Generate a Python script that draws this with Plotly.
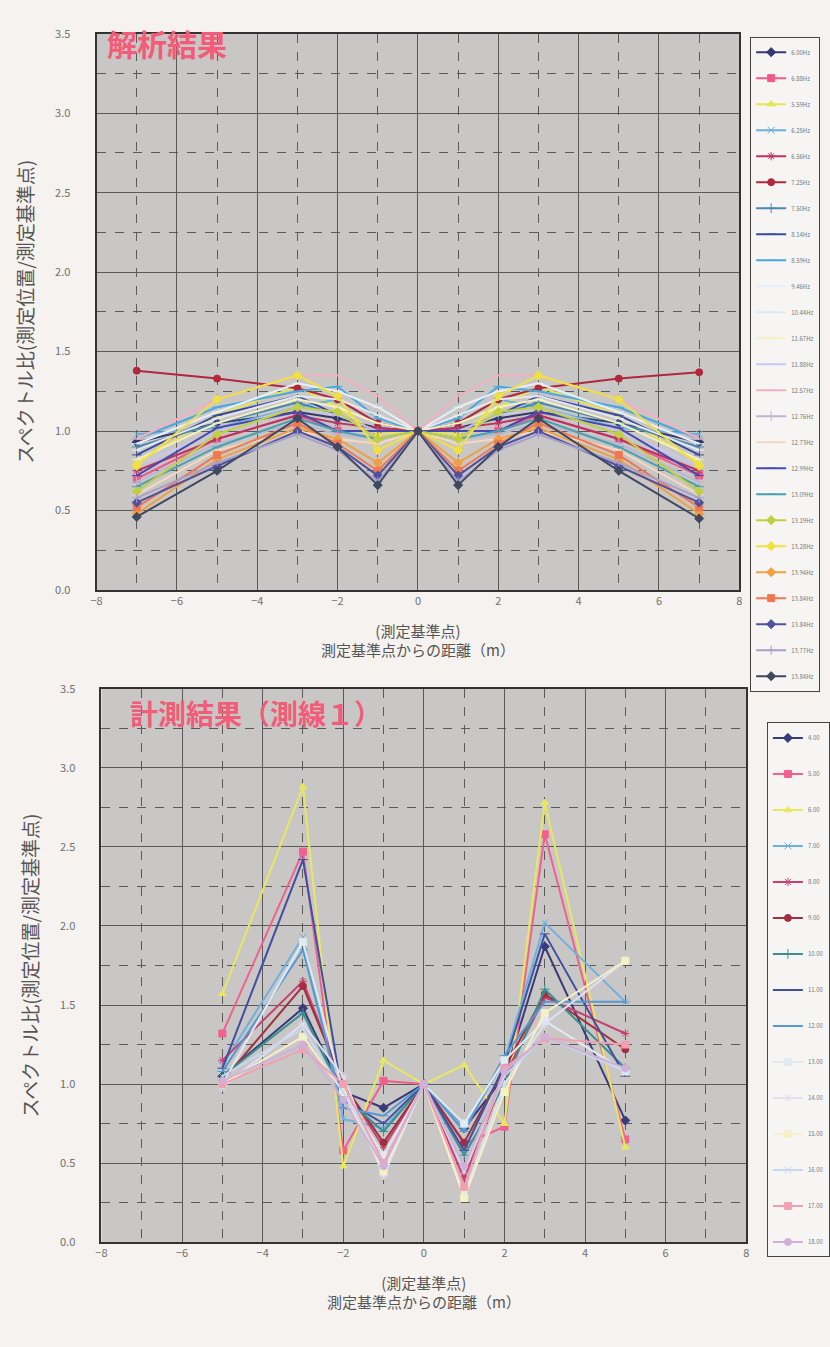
import plotly.graph_objects as go

# ---------------- data ----------------
x_calc = [-7, -5, -3, -2, -1, 0, 1, 2, 3, 5, 7]
calc_names = ["6.00Hz", "6.88Hz", "5.59Hz", "6.25Hz", "6.56Hz", "7.25Hz", "7.50Hz", "8.14Hz",
              "8.59Hz", "9.46Hz", "10.44Hz", "11.67Hz", "11.88Hz", "12.57Hz", "12.76Hz",
              "12.73Hz", "12.99Hz", "13.09Hz", "13.19Hz", "13.28Hz", "13.94Hz", "13.84Hz",
              "13.84Hz", "13.77Hz", "13.84Hz"]
calc_vals = [
    [0.93, 1.05, 1.12, 1.08, 1.02, 1.00, 1.02, 1.08, 1.12, 1.05, 0.93],
    [0.70, 0.95, 1.10, 1.00, 1.00, 1.00, 1.00, 1.00, 1.10, 0.95, 0.72],
    [0.80, 1.10, 1.28, 1.15, 0.98, 1.00, 0.98, 1.15, 1.28, 1.10, 0.80],
    [0.98, 1.02, 1.15, 1.20, 1.05, 1.00, 1.05, 1.20, 1.15, 1.02, 0.98],
    [0.75, 0.95, 1.10, 1.05, 1.02, 1.00, 1.02, 1.05, 1.10, 0.95, 0.75],
    [1.38, 1.33, 1.27, 1.20, 1.05, 1.00, 1.05, 1.20, 1.27, 1.33, 1.37],
    [0.90, 1.05, 1.18, 1.10, 1.00, 1.00, 1.00, 1.10, 1.18, 1.05, 0.90],
    [0.85, 1.10, 1.22, 1.10, 1.00, 1.00, 1.00, 1.10, 1.22, 1.10, 0.85],
    [0.95, 1.15, 1.25, 1.28, 1.08, 1.00, 1.08, 1.28, 1.25, 1.15, 0.95],
    [0.92, 1.12, 1.30, 1.25, 1.15, 1.00, 1.15, 1.25, 1.30, 1.12, 0.92],
    [0.88, 1.08, 1.22, 1.20, 1.10, 1.00, 1.10, 1.20, 1.22, 1.08, 0.88],
    [0.82, 1.05, 1.20, 1.15, 1.05, 1.00, 1.05, 1.15, 1.20, 1.05, 0.82],
    [0.78, 1.00, 1.15, 1.10, 1.00, 1.00, 1.00, 1.10, 1.15, 1.00, 0.78],
    [0.95, 1.20, 1.35, 1.35, 1.22, 1.00, 1.22, 1.35, 1.35, 1.20, 0.95],
    [0.68, 0.92, 1.05, 0.98, 0.95, 1.00, 0.95, 0.98, 1.05, 0.92, 0.68],
    [0.60, 0.88, 1.00, 0.95, 0.92, 1.00, 0.92, 0.95, 1.00, 0.88, 0.60],
    [0.72, 1.02, 1.12, 1.00, 1.00, 1.00, 1.00, 1.00, 1.12, 1.02, 0.72],
    [0.65, 0.90, 1.08, 1.00, 0.95, 1.00, 0.95, 1.00, 1.08, 0.90, 0.65],
    [0.62, 0.98, 1.15, 1.12, 0.95, 1.00, 0.95, 1.12, 1.15, 0.98, 0.62],
    [0.78, 1.20, 1.35, 1.22, 0.88, 1.00, 0.88, 1.22, 1.35, 1.20, 0.78],
    [0.48, 0.82, 1.02, 0.95, 0.80, 1.00, 0.80, 0.95, 1.02, 0.82, 0.48],
    [0.52, 0.85, 1.05, 0.92, 0.75, 1.00, 0.75, 0.92, 1.05, 0.85, 0.52],
    [0.55, 0.78, 1.00, 0.90, 0.72, 1.00, 0.72, 0.90, 1.00, 0.78, 0.55],
    [0.58, 0.80, 0.98, 0.88, 0.68, 1.00, 0.68, 0.88, 0.98, 0.80, 0.58],
    [0.46, 0.75, 1.08, 0.90, 0.66, 1.00, 0.66, 0.90, 1.08, 0.75, 0.45],
]
calc_colors = ["#34386e", "#ee5a8a", "#e6e650", "#6ab0d8", "#c03060", "#b0283a", "#4a88b0",
               "#3a4aa0", "#48a8e0", "#e8eef5", "#e4e8ee", "#f4f0c0", "#c8c8f0", "#f0b0c0",
               "#b8b8d0", "#f4d8c0", "#4848b0", "#48a0b0", "#c0d040", "#f0e040", "#f0a040",
               "#f07850", "#5050a0", "#a8a0c8", "#404860"]
calc_symbols = ["diamond", "square", "triangle-up", "x-thin-open", "asterisk-open", "circle",
                "cross-thin-open", "line-ew-open", "line-ew-open", "line-ew-open", "line-ew-open",
                "line-ew-open", "line-ew-open", "line-ew-open", "cross-thin-open", "line-ew-open",
                "line-ew-open", "line-ew-open", "diamond", "diamond", "diamond", "square",
                "diamond", "cross-thin-open", "diamond"]

x_meas = [-5, -3, -2, -1, 0, 1, 2, 3, 5]
meas_names = ["4.00", "5.00", "6.00", "7.00", "8.00", "9.00", "10.00", "11.00", "12.00",
              "13.00", "14.00", "15.00", "16.00", "17.00", "18.00"]
meas_vals = [
    [1.05, 1.48, 0.95, 0.85, 1.00, 0.72, 1.05, 1.87, 0.77],
    [1.32, 2.47, 0.58, 1.02, 1.00, 0.62, 0.73, 2.58, 0.65],
    [1.57, 2.88, 0.48, 1.15, 1.00, 1.12, 0.75, 2.78, 0.60],
    [1.12, 1.93, 0.78, 0.72, 1.00, 0.72, 1.15, 2.02, 1.52],
    [1.15, 1.65, 1.00, 0.60, 1.00, 0.40, 1.05, 1.55, 1.32],
    [1.02, 1.62, 1.00, 0.63, 1.00, 0.63, 1.10, 1.57, 1.22],
    [1.05, 1.45, 0.92, 0.70, 1.00, 0.55, 1.00, 1.60, 1.10],
    [1.10, 2.42, 0.90, 0.75, 1.00, 0.58, 1.12, 1.95, 1.05],
    [1.08, 1.85, 0.85, 0.80, 1.00, 0.70, 1.18, 1.52, 1.52],
    [1.00, 1.90, 0.95, 0.55, 1.00, 0.75, 1.15, 1.40, 1.08],
    [0.98, 1.38, 1.05, 0.42, 1.00, 0.30, 1.00, 1.38, 1.78],
    [1.00, 1.30, 0.95, 0.45, 1.00, 0.28, 0.95, 1.45, 1.78],
    [1.05, 1.35, 0.95, 0.50, 1.00, 0.45, 1.05, 1.30, 1.08],
    [1.00, 1.22, 1.00, 0.50, 1.00, 0.35, 1.10, 1.29, 1.25],
    [1.02, 1.25, 0.90, 0.48, 1.00, 0.48, 1.08, 1.30, 1.10],
]
meas_colors = ["#3a3a78", "#f06090", "#e8e860", "#70b0e0", "#c84070", "#a03040", "#3a9090",
               "#4050a0", "#5898d0", "#e0eaf0", "#e0e0f0", "#f4f0c8", "#c8d8f0", "#f0a0b0",
               "#d0b0d8"]
meas_symbols = ["diamond", "square", "triangle-up", "x-thin-open", "asterisk-open", "circle",
                "cross-thin-open", "line-ew-open", "line-ew-open", "square", "asterisk-open",
                "square", "x-thin-open", "square", "circle"]

y_title = "スペクトル比(測定位置/測定基準点)"
x_title = "(測定基準点)<br>測定基準点からの距離（m）"
title_calc = "解析結果"
title_meas = "計測結果（測線１）"

# ---------------- figure ----------------
W, H = 830, 1347
BG = "#f6f2ef"
fig = go.Figure()

for i, (name, vals) in enumerate(zip(calc_names, calc_vals)):
    fig.add_trace(go.Scatter(
        x=x_calc, y=vals, name=name, mode="lines+markers",
        line=dict(color=calc_colors[i], width=2),
        marker=dict(color=calc_colors[i], symbol=calc_symbols[i], size=7,
                    line=dict(color=calc_colors[i], width=1)),
        xaxis="x", yaxis="y", legend="legend", legendgroup="c%d" % i))

for i, (name, vals) in enumerate(zip(meas_names, meas_vals)):
    fig.add_trace(go.Scatter(
        x=x_meas, y=vals, name=name, mode="lines+markers",
        line=dict(color=meas_colors[i], width=2),
        marker=dict(color=meas_colors[i], symbol=meas_symbols[i], size=7,
                    line=dict(color=meas_colors[i], width=1)),
        xaxis="x2", yaxis="y2", legend="legend2", legendgroup="m%d" % i))

font_family = "Noto Sans CJK JP, sans-serif"
tick_font = dict(family=font_family, size=11, color="#707070")
title_font = dict(family=font_family, size=15, color="#555")


def xaxis(domain, anchor):
    return dict(domain=domain, anchor=anchor, range=[-8, 8], dtick=2, tick0=-8,
                showgrid=True, gridcolor="#5a5a5a", gridwidth=1,
                minor=dict(dtick=1, tick0=-8, showgrid=True, gridcolor="#5a5a5a",
                           griddash="dash", gridwidth=1),
                showline=True, linecolor="#333", linewidth=2, mirror=True,
                zeroline=False, ticks="", tickfont=tick_font,
                title=dict(text=x_title, font=title_font, standoff=19))


def yaxis(domain, anchor):
    return dict(domain=domain, anchor=anchor, range=[0, 3.5], dtick=0.5, tick0=0,
                tickformat=".1f",
                showgrid=True, gridcolor="#5a5a5a", gridwidth=1,
                minor=dict(dtick=0.25, tick0=0, showgrid=True, gridcolor="#5a5a5a",
                           griddash="dash", gridwidth=1),
                showline=True, linecolor="#333", linewidth=2, mirror=True,
                zeroline=False, ticks="", tickfont=tick_font, ticklabelstandoff=22,
                title=dict(text=y_title, font=dict(family=font_family, size=19, color="#555"),
                           standoff=16))


legend_common = dict(bgcolor="#f7f5f3", bordercolor="#444", borderwidth=1,
                     font=dict(family=font_family, size=6, color="#777"),
                     xanchor="left", yanchor="top", itemwidth=30)

fig.update_layout(
    width=W, height=H, margin=dict(l=0, r=0, t=0, b=0),
    paper_bgcolor=BG, plot_bgcolor="#c9c7c6",
    xaxis=xaxis([92 / W, 745 / W], "y"),
    yaxis=yaxis([1 - 588 / H, 1 - 25 / H], "x"),
    xaxis2=xaxis([97 / W, 752 / W], "y2"),
    yaxis2=yaxis([1 - 1248 / H, 1 - 688 / H], "x2"),
    legend=dict(x=756 / W, y=1 - 28 / H, tracegroupgap=7, **legend_common),
    legend2=dict(x=773 / W, y=1 - 722 / H, tracegroupgap=17, **legend_common),
    showlegend=True,
    annotations=[
        dict(text="<b>%s</b>" % title_calc, xref="paper", yref="paper",
             x=101 / W, y=1 - 34 / H, xanchor="left", yanchor="middle", showarrow=False,
             font=dict(family=font_family, size=30, color="#f25c78")),
        dict(text="<b>%s</b>" % title_meas, xref="paper", yref="paper",
             x=124 / W, y=1 - 712 / H, xanchor="left", yanchor="middle", showarrow=False,
             font=dict(family=font_family, size=28, color="#f25c78")),
    ],
)

fig.write_html("out.html", config={"displayModeBar": False},
               post_script="document.body.style.margin='0';"
                           "document.body.style.background='%s';" % BG)
